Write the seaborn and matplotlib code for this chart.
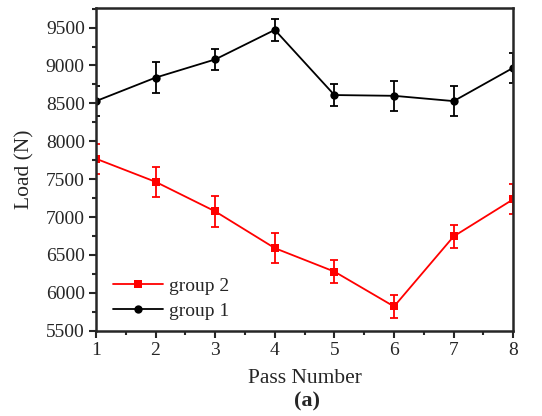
import matplotlib
matplotlib.use("Agg")
import matplotlib.pyplot as plt
import seaborn as sns
import pandas as pd
from matplotlib.ticker import MultipleLocator

passes = [1, 2, 3, 4, 5, 6, 7, 8]
group1_load = [8530, 8840, 9080, 9470, 8610, 8600, 8530, 8970]
group1_err = [200, 200, 140, 150, 150, 200, 200, 200]
group2_load = [7770, 7465, 7075, 6590, 6280, 5820, 6745, 7235]
group2_err = [200, 200, 200, 200, 150, 150, 150, 200]

sns.set_style("ticks")
plt.rcParams['font.family'] = ['Liberation Serif', 'DejaVu Serif']

df = pd.concat([
    pd.DataFrame({'pass': passes, 'load': group2_load, 'err': group2_err, 'group': 'group 2'}),
    pd.DataFrame({'pass': passes, 'load': group1_load, 'err': group1_err, 'group': 'group 1'}),
])
colors = {'group 2': '#ff0000', 'group 1': '#000000'}

fig = plt.figure(figsize=(5.42, 4.16), dpi=100)
ax = fig.add_axes([0.177, 0.205, 0.77, 0.776])

sns.lineplot(data=df, x='pass', y='load', hue='group', style='group',
             hue_order=['group 2', 'group 1'], palette=colors,
             markers={'group 2': 's', 'group 1': 'o'}, dashes=False,
             markersize=6, markeredgewidth=0, linewidth=1.3, ax=ax)

# error bars (clipped at the frame like the original)
for g, sub in df.groupby('group'):
    ax.errorbar(sub['pass'], sub['load'], yerr=sub['err'], fmt='none',
                ecolor=colors[g], elinewidth=1.3, capsize=3, capthick=1.3)

ax.set_xlim(1, 8)
ax.set_ylim(5500, 9760)
ax.xaxis.set_major_locator(MultipleLocator(1))
ax.xaxis.set_minor_locator(MultipleLocator(0.5))
ax.yaxis.set_major_locator(MultipleLocator(500))
ax.yaxis.set_minor_locator(MultipleLocator(250))
ax.tick_params(which='major', direction='out', length=5, width=1.5, labelsize=14,
               top=False, right=False, pad=3)
ax.tick_params(which='minor', direction='out', length=3, width=1.5,
               top=False, right=False)
for s in ax.spines.values():
    s.set_visible(True)
    s.set_linewidth(1.8)

ax.set_xlabel('Pass Number', fontsize=15.5, labelpad=7)
ax.set_ylabel('Load (N)', fontsize=15.5, labelpad=8)

leg = ax.legend(loc='center left', bbox_to_anchor=(0.022, 0.10), frameon=False,
                fontsize=14, handlelength=2.6, handletextpad=0.3,
                labelspacing=0.4, borderaxespad=0, borderpad=0.4)

fig.text(0.566, 0.012, '(a)', ha='center', va='bottom', fontsize=16, fontweight='bold')

fig.savefig('out.png', dpi=100)
plt.close(fig)
